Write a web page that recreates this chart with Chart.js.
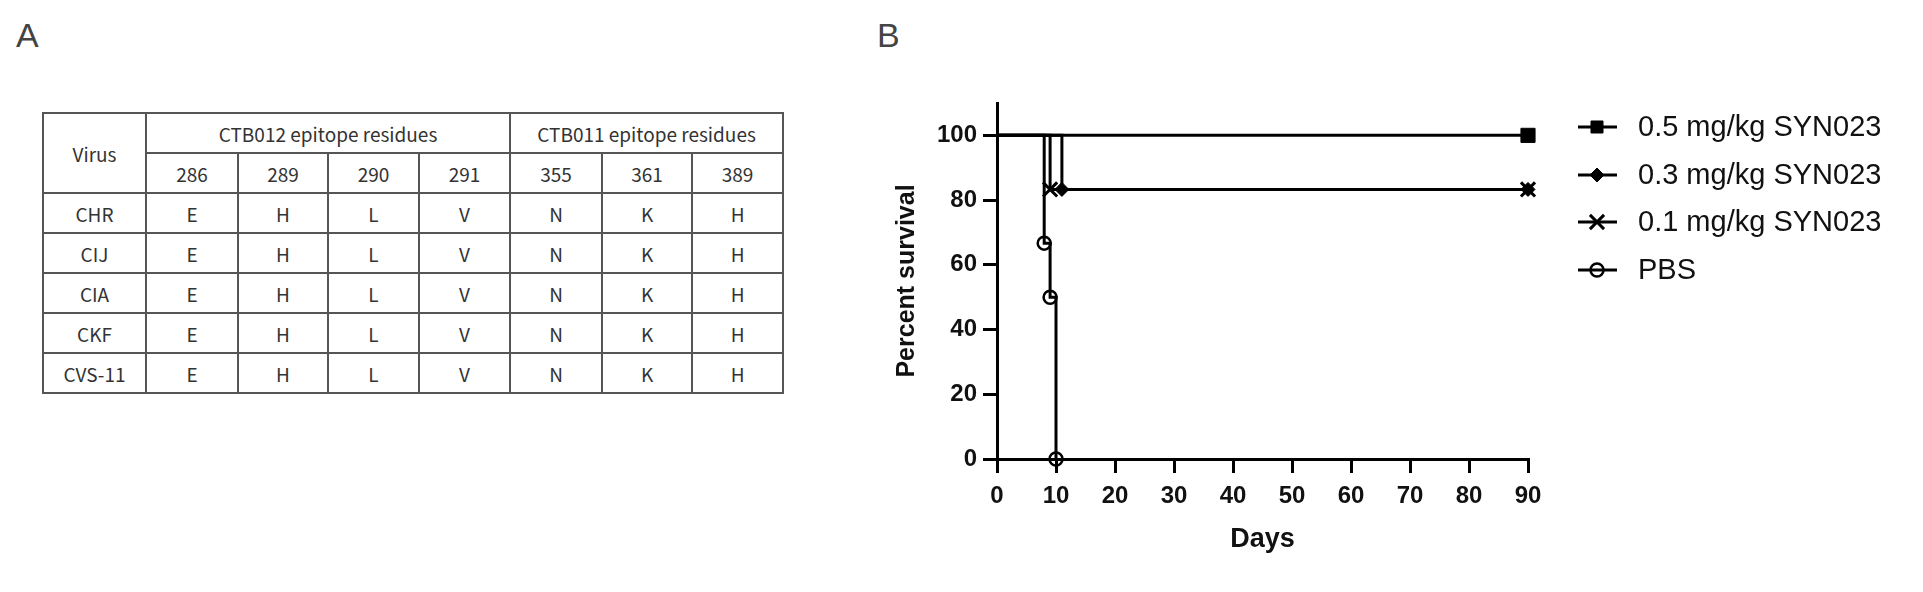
<!DOCTYPE html>
<html>
<head>
<meta charset="utf-8">
<title>Epitope residues and survival</title>
<script src="https://cdn.jsdelivr.net/npm/chart.js@4.4.1/dist/chart.umd.min.js"></script>
<style>
  body {
    margin: 0;
    background: #fff;
    width: 1923px;
    height: 592px;
    position: relative;
    overflow: hidden;
    font-family: "Liberation Sans", Arial, sans-serif;
  }
  .panel-label {
    position: absolute;
    font-size: 34px;
    line-height: 34px;
    color: #444;
  }
  #epitopes {
    position: absolute;
    left: 42px;
    top: 112px;
    width: 741px;
    table-layout: fixed;
    border-collapse: collapse;
    font-family: "Noto Sans CJK SC", "Noto Sans", sans-serif;
    font-size: 19px;
    color: #333;
  }
  #epitopes tr { height: 40px; }
  #epitopes td {
    border: 2px solid #555;
    text-align: center;
    vertical-align: middle;
    padding: 0;
  }
  #survivalChart {
    position: absolute;
    left: 860px;
    top: 60px;
  }
</style>
</head>
<body>

<div class="panel-label" style="left:16px; top:18px;">A</div>
<div class="panel-label" style="left:877px; top:18px;">B</div>

<table id="epitopes"></table>
<canvas id="survivalChart" width="1063" height="532" style="width:1063px;height:532px;"></canvas>

<script>
// --- Tabla A: residuos de los epitopos ---
const viruses = ["CHR", "CIJ", "CIA", "CKF", "CVS-11"];
const groupCTB012 = "CTB012 epitope residues";
const groupCTB011 = "CTB011 epitope residues";
const positionsCTB012 = ["286", "289", "290", "291"];
const positionsCTB011 = ["355", "361", "389"];
const residuesCTB012 = ["E", "H", "L", "V"];
const residuesCTB011 = ["N", "K", "H"];
const colWidths = [103, 92, 90, 91, 91, 92, 90, 91];

// --- Grafico B: supervivencia (Kaplan-Meier) ---
const seriesNames = ["0.5 mg/kg SYN023", "0.3 mg/kg SYN023", "0.1 mg/kg SYN023", "PBS"];
const days05 = [0, 90];
const surv05 = [100, 100];
const days03 = [0, 11, 90];
const surv03 = [100, 83.3, 83.3];
const days01 = [0, 9, 90];
const surv01 = [100, 83.3, 83.3];
const daysPBS = [0, 8, 9, 10];
const survPBS = [100, 66.7, 50, 0];
const xTicks = [0, 10, 20, 30, 40, 50, 60, 70, 80, 90];
const yTicks = [0, 20, 40, 60, 80, 100];

// construir la tabla
const table = document.getElementById("epitopes");
let html = "<colgroup>" + colWidths.map(w => `<col style="width:${w}px">`).join("") + "</colgroup>";
html += `<tr><td rowspan="2">Virus</td><td colspan="${positionsCTB012.length}">${groupCTB012}</td>` +
        `<td colspan="${positionsCTB011.length}">${groupCTB011}</td></tr>`;
html += "<tr>" + positionsCTB012.concat(positionsCTB011).map(p => `<td>${p}</td>`).join("") + "</tr>";
viruses.forEach(v => {
    html += `<tr><td>${v}</td>` + residuesCTB012.concat(residuesCTB011).map(r => `<td>${r}</td>`).join("") + "</tr>";
});
table.innerHTML = html;

// puntos de cada serie
function toPoints(days, surv) {
    return days.map((d, i) => ({ x: d, y: surv[i] }));
}
// sin marcador en el punto inicial (dia 0)
function markerSizes(days, r) {
    return days.map((d, i) => (i === 0 ? 0 : r));
}

const markerStyles = [
    { pointStyle: "rect", radius: 10, fill: "#000", borderWidth: 1 },
    { pointStyle: "rectRot", radius: 7, fill: "#000", borderWidth: 1 },
    { pointStyle: "crossRot", radius: 10, fill: "#000", borderWidth: 3 },
    { pointStyle: "circle", radius: 6.5, fill: "rgba(0,0,0,0)", borderWidth: 2.5 }
];

const allDays = [days05, days03, days01, daysPBS];
const allSurv = [surv05, surv03, surv01, survPBS];

const datasets = seriesNames.map((name, i) => ({
    label: name,
    data: toPoints(allDays[i], allSurv[i]),
    stepped: "before",
    borderColor: "#000",
    borderWidth: 3,
    pointStyle: markerStyles[i].pointStyle,
    pointRadius: markerSizes(allDays[i], markerStyles[i].radius),
    pointHoverRadius: markerSizes(allDays[i], markerStyles[i].radius),
    pointBackgroundColor: markerStyles[i].fill,
    pointBorderColor: "#000",
    pointBorderWidth: markerStyles[i].borderWidth,
    clip: false,
    fill: false
}));

// leyenda propia: linea + marcador + texto
const lineLegend = {
    id: "lineLegend",
    afterDraw(chart) {
        const ctx = chart.ctx;
        const x0 = 718, x1 = 757, xm = 737, xt = 778;
        const rows = [67, 115, 162, 210];
        ctx.save();
        seriesNames.forEach((name, i) => {
            const y = rows[i];
            ctx.strokeStyle = "#000";
            ctx.lineWidth = 3;
            ctx.beginPath();
            ctx.moveTo(x0, y);
            ctx.lineTo(x1, y);
            ctx.stroke();

            const m = markerStyles[i];
            ctx.fillStyle = m.fill;
            ctx.lineWidth = m.borderWidth;
            Chart.helpers.drawPoint(ctx, {
                pointStyle: m.pointStyle,
                radius: m.pointStyle === "rect" ? 8.5 : m.radius,
                rotation: 0,
                borderWidth: m.borderWidth
            }, xm, y);

            ctx.fillStyle = "#111";
            ctx.font = "29px 'Liberation Sans', Arial, sans-serif";
            ctx.textAlign = "left";
            ctx.textBaseline = "middle";
            ctx.fillText(name, xt, y + 1);
        });
        ctx.restore();
    }
};

const axisFont = "'Liberation Sans', Arial, sans-serif";

new Chart(document.getElementById("survivalChart"), {
    type: "line",
    data: { datasets: datasets },
    options: {
        responsive: false,
        animation: false,
        layout: { padding: { left: 0, top: 43, right: 395, bottom: 0 } },
        plugins: {
            legend: { display: false },
            tooltip: { enabled: false }
        },
        scales: {
            x: {
                type: "linear",
                min: 0,
                max: 90,
                afterBuildTicks: s => { s.ticks = xTicks.map(v => ({ value: v })); },
                afterFit: s => { s.height = 133; },
                grid: { drawOnChartArea: false, tickLength: 14, lineWidth: 3, color: "#000" },
                border: { display: true, width: 3, color: "#000" },
                ticks: {
                    autoSkip: false,
                    maxRotation: 0,
                    padding: 9,
                    color: "#111",
                    font: { family: axisFont, size: 24, weight: "bold" }
                },
                title: {
                    display: true,
                    text: "Days",
                    color: "#111",
                    font: { family: axisFont, size: 27, weight: "bold" },
                    padding: { top: 0, bottom: 36 }
                }
            },
            y: {
                type: "linear",
                min: 0,
                max: 110,
                afterBuildTicks: s => { s.ticks = yTicks.map(v => ({ value: v })); },
                afterFit: s => { s.width = 137; },
                grid: { drawOnChartArea: false, tickLength: 14, lineWidth: 3, color: "#000" },
                border: { display: true, width: 3, color: "#000" },
                ticks: {
                    padding: 6,
                    color: "#111",
                    font: { family: axisFont, size: 24, weight: "bold" }
                },
                title: {
                    display: true,
                    text: "Percent survival",
                    color: "#111",
                    font: { family: axisFont, size: 25, weight: "bold" },
                    padding: { top: 32, bottom: 0 }
                }
            }
        }
    },
    plugins: [lineLegend]
});
</script>
</body>
</html>
